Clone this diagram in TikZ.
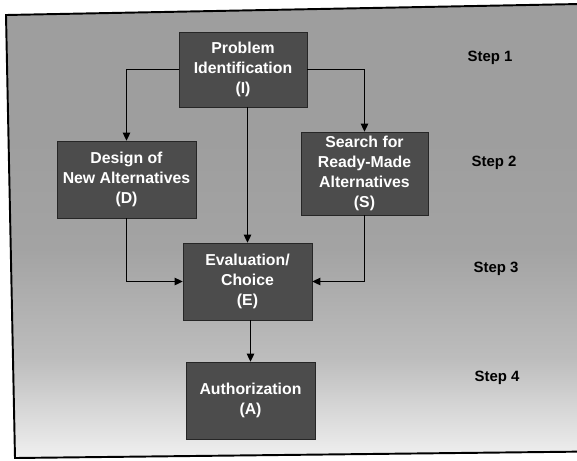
\documentclass[tikz,border=0pt]{standalone}
\usepackage{fontspec}
\setsansfont{Liberation Sans}
\usetikzlibrary{arrows.meta, positioning, calc}
\pgfdeclareverticalshading{paper}{100bp}{color(0bp)=(black!6); color(25bp)=(black!6);
  color(36bp)=(black!26); color(48bp)=(black!36); color(60bp)=(black!38); color(100bp)=(black!38)}
\tikzset{
  box/.style={draw=black!85, fill=black!70, text=white, align=center, inner sep=1pt,
    font=\sffamily\bfseries\fontsize{9}{11.4}\selectfont, minimum width=2.58cm, minimum height=1.54cm},
  arr/.style={-{Triangle[length=1.6mm, width=1.5mm]}, line width=0.6pt},
  steplabel/.style={font=\sffamily\bfseries\fontsize{8.5}{10}\selectfont},
}

\begin{document}
\begin{tikzpicture}[x=0.02cm, y=-0.02cm]
  \useasboundingbox (0,0) rectangle (577,460);
  % page background, lighter towards the bottom
  \shade[shading=paper] (6,15) -- (590,3.8) -- (590,451.5) -- (15,458) -- cycle;
  \draw[line width=1.1pt] (590,3.8) -- (6,15) -- (15,458) -- (590,451.5);

  \node[box, minimum width=2.56cm, minimum height=1.5cm] (I) at (243,69.5) {Problem\\Identification\\(I)};
  \node[box, minimum width=2.78cm] (D) at (126.5,179.5) {Design of\\New Alternatives\\(D)};
  \node[box, minimum width=2.54cm, minimum height=1.66cm] (S) at (364.5,173.5) {Search for\\Ready-Made\\Alternatives\\(S)};
  \node[box] (E) at (247.5,281.5) {Evaluation/\\Choice\\(E)};
  \node[box] (A) at (250.5,400.5) {Authorization\\(A)};

  \node[steplabel] (s1) at (490,58) {Step 1};
  \node[steplabel] (s2) at (494,163) {Step 2};
  \node[steplabel] (s3) at (496,269) {Step 3};
  \node[steplabel] (s4) at (497,378) {Step 4};

  \draw[arr] (I.west) -| (D.north);
  \draw[arr] (I.east) -| (S.north);
  \draw[arr] (E.north |- I.south) -- (E.north);
  \draw[arr] (D.south) |- (E.west);
  \draw[arr] (S.south) |- (E.east);
  \draw[arr] (A.north |- E.south) -- (A.north);
\end{tikzpicture}
\end{document}
